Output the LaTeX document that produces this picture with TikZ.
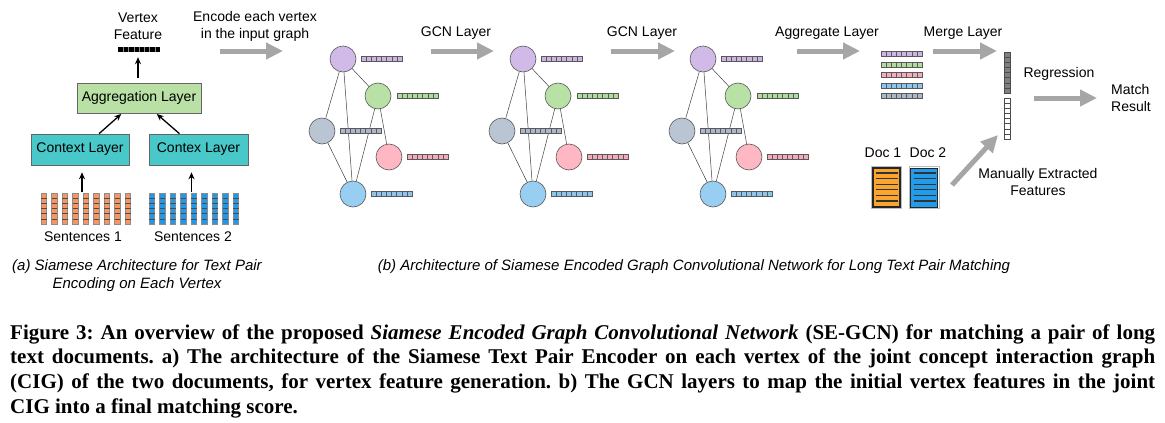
\documentclass[tikz,border=0pt]{standalone}
\usepackage{fontspec}
\setmainfont{Liberation Serif}
\setsansfont{Liberation Sans}
\usetikzlibrary{arrows.meta}
\definecolor{agray}{RGB}{166,166,166}
\definecolor{ctxfill}{RGB}{72,200,200}
\definecolor{aggfill}{RGB}{185,225,165}
\definecolor{cpurple}{RGB}{210,186,232}
\definecolor{cgreen}{RGB}{185,225,165}
\definecolor{cgray}{RGB}{186,197,212}
\definecolor{cpink}{RGB}{255,183,196}
\definecolor{cblue}{RGB}{152,206,242}
\definecolor{bpurple}{RGB}{205,180,228}
\definecolor{bgreen}{RGB}{175,220,155}
\definecolor{bgray}{RGB}{172,184,202}
\definecolor{bpink}{RGB}{246,170,186}
\definecolor{bblue}{RGB}{140,198,238}
\definecolor{sorange}{RGB}{246,150,98}
\definecolor{sblue}{RGB}{38,150,230}
\definecolor{dorange}{RGB}{250,165,45}
\definecolor{dblue}{RGB}{35,155,235}
\definecolor{mgray}{RGB}{128,128,128}
\tikzset{
  lbl/.style={font=\sffamily\fontsize{14}{17}\selectfont, align=center, inner sep=0pt},
  subcap/.style={font=\sffamily\itshape\fontsize{15}{18}\selectfont, align=center, inner sep=0pt},
  garrow/.style={draw=agray, line width=5pt, -{Triangle[length=17pt,width=16pt]}},
  blk/.style={line width=1.3pt, -{Stealth[length=7pt,width=6pt]}},
  layerbox/.style={draw=black!60, line width=0.6pt, font=\sffamily\fontsize{14}{17}\selectfont, inner sep=0pt},
  vert/.style={circle, draw=black!65, line width=0.6pt, minimum size=26pt, inner sep=0pt},
  gedge/.style={draw=black!75, line width=0.5pt},
  barline/.style={draw=black!65, line width=0.5pt},
  docbox/.style={draw=black!85, line width=1pt, minimum width=27pt, minimum height=39pt, inner sep=0pt},
}
\newcommand\fbar[3]{%
  \filldraw[barline,fill=#3] (#1,#2-2.5) rectangle (#1+41,#2+2.5);
  \foreach \k in {1,...,7} \draw[barline] (#1+\k*5.125,#2-2.5) -- (#1+\k*5.125,#2+2.5);
}
\newcommand\sentmat[2]{%
  \foreach \i in {0,...,8} {
    \filldraw[draw=black!45, line width=1pt, fill=#2] (#1+\i*10.5,193) rectangle (#1+\i*10.5+5.5,224);
    \foreach \r in {1,...,5} \draw[black!70, line width=0.5pt] (#1+\i*10.5,193+\r*5.1667) -- (#1+\i*10.5+5.5,193+\r*5.1667);
  }
}
\begin{document}
\begin{tikzpicture}[x=1pt,y=-1pt]
\useasboundingbox (0,0) rectangle (1165,423);
\fill[white] (0,0) rectangle (1165,423);

% ---------- part (a)
\node[lbl] (vflbl) at (138,26.5) {Vertex\\Feature};
\node[fill=black, minimum width=42pt, minimum height=5pt, inner sep=0pt] (vf) at (139,49.5) {};
\foreach \k in {1,...,7} \draw[black!45, line width=0.5pt] (118+\k*5.25,47) -- (118+\k*5.25,52);
\node[layerbox, fill=aggfill, minimum width=124pt, minimum height=30pt] (agg) at (139,98) {Aggregation Layer};
\node[layerbox, fill=ctxfill, minimum width=98pt, minimum height=31pt] (ctx1) at (80,149.5) {Context Layer};
\node[layerbox, fill=ctxfill, minimum width=99pt, minimum height=31pt] (ctx2) at (198.5,149.5) {Contex Layer};
\sentmat{41}{sorange}
\sentmat{149}{sblue}
\node[minimum width=88pt, minimum height=31pt, inner sep=0pt] (s1) at (85,208.5) {};
\node[minimum width=88pt, minimum height=31pt, inner sep=0pt] (s2) at (193,208.5) {};
\node[lbl] (s1lbl) at (83,237) {Sentences 1};
\node[lbl] (s2lbl) at (193,237) {Sentences 2};
\draw[blk, shorten <=1pt, shorten >=7pt] ([xshift=2pt]ctx1.south |- s1.north) -- ([xshift=2pt]ctx1.south);
\draw[blk, shorten <=1pt, shorten >=7pt] ([xshift=-7pt]ctx2.south |- s2.north) -- ([xshift=-7pt]ctx2.south);
\draw[blk, shorten >=1pt] ([xshift=19pt]ctx1.north) -- ([xshift=-17pt]agg.south);
\draw[blk, shorten >=1pt] ([xshift=-19pt]ctx2.north) -- ([xshift=17pt]agg.south);
\draw[blk, shorten <=5pt, shorten >=5pt] ([xshift=-1pt]agg.north) -- ([xshift=-1pt]vf.south);
\node[subcap] (capa) at (137,276) {(a) Siamese Architecture for Text Pair\\Encoding on Each Vertex};

% ---------- part (b)
\node[lbl] (enc) at (255,26.5) {Encode each vertex\\in the input graph};
\coordinate (e1s) at (220,51); \coordinate (e1e) at (283,51);
\draw[garrow] (e1s) -- (e1e);

\foreach \g/\dx in {1/0,2/180,3/360}{
  \begin{scope}[xshift=\dx pt]
    \node[vert, fill=cpurple] (g\g p) at (343,59) {};
    \node[vert, fill=cgreen] (g\g g) at (378,96) {};
    \node[vert, fill=cgray] (g\g y) at (322,131) {};
    \node[vert, fill=cpink] (g\g k) at (389,157) {};
    \node[vert, fill=cblue] (g\g b) at (353,194) {};
    \draw[gedge] (g\g p) -- (g\g g);
    \draw[gedge] (g\g p) -- (g\g y);
    \draw[gedge] (g\g p) -- (g\g b);
    \draw[gedge] (g\g g) -- (g\g b);
    \draw[gedge] (g\g g) -- (g\g k);
    \draw[gedge] (g\g y) -- (g\g b);
    \fbar{361}{59}{bpurple}
    \fbar{397}{96}{bgreen}
    \fbar{340}{131}{bgray}
    \fbar{407}{157}{bpink}
    \fbar{371}{194}{bblue}
  \end{scope}
}

\node[lbl] (gcn1) at (456,33) {GCN Layer};
\coordinate (a1s) at (431,51); \coordinate (a1e) at (494,51);
\draw[garrow] (a1s) -- (a1e);
\node[lbl] (gcn2) at (642,33) {GCN Layer};
\coordinate (a2s) at (611,51); \coordinate (a2e) at (675,51);
\draw[garrow] (a2s) -- (a2e);
\node[lbl] (aggl) at (827,33) {Aggregate Layer};
\coordinate (a3s) at (797,51); \coordinate (a3e) at (860,51);
\draw[garrow] (a3s) -- (a3e);

\fbar{881}{54}{bpurple}
\fbar{881}{64.5}{bgreen}
\fbar{881}{75}{bpink}
\fbar{881}{85.5}{bblue}
\fbar{881}{96}{bgray}

\node[lbl] (mergel) at (963,33) {Merge Layer};
\coordinate (a4s) at (933,51); \coordinate (a4e) at (997,51);
\draw[garrow] (a4s) -- (a4e);

% merge vector
\filldraw[draw=black!70, line width=0.5pt, fill=mgray] (1004,52) rectangle (1010,93);
\foreach \k in {1,...,7} \draw[black!70, line width=0.5pt] (1004,52+\k*5.125) -- (1010,52+\k*5.125);
\filldraw[draw=black!70, line width=0.5pt, fill=white] (1004,98) rectangle (1010,139);
\foreach \k in {1,...,7} \draw[black!70, line width=0.5pt] (1004,98+\k*5.125) -- (1010,98+\k*5.125);

\node[lbl] (regl) at (1059,74) {Regression};
\coordinate (a5s) at (1034,98); \coordinate (a5e) at (1097,98);
\draw[garrow] (a5s) -- (a5e);
\node[lbl, align=left, anchor=west] (match) at (1111,97.5) {Match\\Result};

% docs
\node[lbl] (d1lbl) at (883,153) {Doc 1};
\node[lbl] (d2lbl) at (928,153) {Doc 2};
\node[docbox, fill=dorange, double=black!25, double distance=0pt] (d1) at (886.5,187.5) {};
\node[docbox, fill=dblue] (d2) at (924,187.5) {};
\draw[black!25, line width=0.8pt] ([xshift=-1pt,yshift=1pt]d1.north west) rectangle ([xshift=1pt,yshift=-1pt]d1.south east);
\draw[black!25, line width=0.8pt] ([xshift=-1pt,yshift=1pt]d2.north west) rectangle ([xshift=1pt,yshift=-1pt]d2.south east);
\foreach \r in {0,...,5} {
  \draw[black!80, line width=1.1pt] (876,173+\r*5.6) -- (898,173+\r*5.6);
  \draw[black!80, line width=1.1pt] (913.5,173+\r*5.6) -- (935.5,173+\r*5.6);
}
\coordinate (a6s) at (952,185); \coordinate (a6e) at (998,135);
\draw[garrow] (a6s) -- (a6e);
\node[lbl] (manl) at (1038,181.5) {Manually Extracted\\Features};

\node[subcap] (capb) at (694,267) {(b) Architecture of Siamese Encoded Graph Convolutional Network for Long Text Pair Matching};

% ---------- figure caption
\node[anchor=base west, inner sep=0pt] (figcap) at (10,339) {\parbox[t]{1145pt}{\fontsize{21}{24.8}\selectfont\bfseries\frenchspacing
Figure 3: An overview of the proposed \textit{Siamese Encoded Graph Convolutional Network} (SE-GCN) for matching a pair of long\linebreak
text documents. a) The architecture of the Siamese Text Pair Encoder on each vertex of the joint concept interaction graph\linebreak
(CIG) of the two documents, for vertex feature generation. b) The GCN layers to map the initial vertex features in the joint\linebreak
CIG into a final matching score.}};
\end{tikzpicture}
\end{document}
